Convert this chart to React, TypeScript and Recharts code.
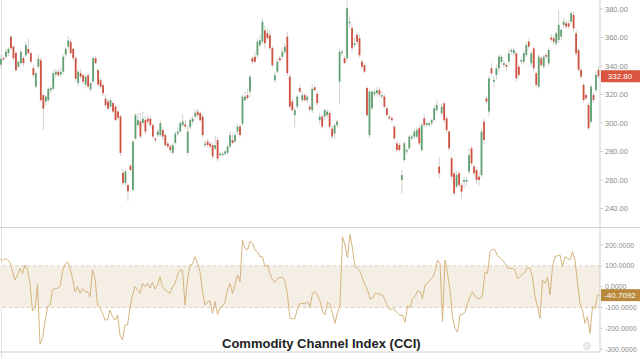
import React from "react";
import {
  ComposedChart,
  Bar,
  Line,
  XAxis,
  YAxis,
  ReferenceArea,
  ReferenceLine,
} from "recharts";

// candles, read left to right off the picture
const opens = [
  341, 345.5, 346.5, 349, 360.5, 353.5, 349, 339.5, 342, 345.5,
  347.5, 352, 349, 338.5, 325.5, 339.5, 344, 319.5, 315, 316,
  323, 324, 334, 336, 334, 336, 348, 353.5, 357, 352,
  345.5, 328, 335, 333.5, 327, 333.5, 323.5, 329, 345.5, 337,
  330, 326.5, 317, 315, 311.5, 314, 311.5, 308, 304.5, 265,
  258, 256.5, 270, 253, 289, 298.5, 301, 300, 302, 303,
  303, 298.5, 289, 291.5, 291.5, 295, 291.5, 285.5, 283.5, 279,
  286, 292.5, 294, 298.5, 299, 279, 297, 301, 304.5, 308,
  307, 304.5, 284.5, 287, 285.5, 284.5, 282, 288, 277.5, 277.5,
  278.5, 279, 283.5, 288, 287, 294, 297.5, 299.5, 316, 319.5,
  322, 345.5, 346.5, 347.5, 354.5, 357, 365, 363, 361.5, 352.5,
  330, 336, 345.5, 346.5, 350, 360.5, 332.5, 315, 305.5, 311.5,
  324.5, 316, 319.5, 316, 311.5, 309, 325, 320.5, 302, 304.5,
  304.5, 305.5, 307, 296, 292.5, 298.5, 329, 349, 345.5, 345.5,
  370, 366.5, 354.7, 361.8, 359.5, 343, 340.5, 324.5, 291.5, 310.3,
  320, 321, 323, 318.5, 318.5, 310.3, 304.4, 303.3, 297.4, 285.7,
  284.6, 260, 274, 280, 282.2, 289.2, 290.4, 290.4, 296.3, 281,
  303.3, 298.6, 298.6, 299.8, 302, 309, 269.4, 306.8, 313.8, 303.3,
  294, 275.2, 264.7, 255.3, 264.7, 256.5, 258.8, 258.8, 265.9, 282.2,
  269.4, 267, 262.3, 263.5, 300.9, 317.3, 308, 338.4, 329, 333.7,
  338.4, 343, 340.7, 340.7, 343, 350.1, 348.9, 348.9, 339.5, 343,
  343, 347.7, 357.1, 341.9, 352.4, 334.9, 325.5, 345.4, 339.5, 347.7,
  341.9, 360, 359.4, 355.9, 358.2, 360.6, 368.8, 369.9, 369.9, 371.1,
  375.8, 362.9, 351.2, 337.2, 326.7, 319.6, 312.6, 300.9, 319.6, 323.2,
  337.2,
];

const highs = [
  348, 347, 352, 353, 362, 355, 350, 344, 351, 347,
  357, 359, 350, 341, 336, 348, 346, 321, 320, 325,
  326, 337, 338, 338, 339, 348, 353, 361, 359, 353,
  347, 337, 338, 335, 334, 335, 329, 347, 347, 338,
  332, 328, 320, 317, 318, 315, 313, 309, 306, 268,
  267, 258, 271, 288, 307, 307, 307, 308, 305, 306,
  305, 300, 290, 296, 302, 297, 293, 287, 285, 286,
  294, 297, 301, 306, 302, 298, 304, 305, 310, 310,
  308, 306, 288, 289, 287, 286, 291, 290, 280, 280,
  281, 285, 294, 292, 294, 299, 299, 320, 322, 324,
  334, 347, 350, 359, 362, 374, 368, 366, 365, 354,
  336, 345, 347, 353, 356, 364, 334, 317, 311, 320,
  327, 322, 321, 320, 313, 327, 327, 322, 307, 306,
  310, 310, 309, 298, 300, 302, 352, 352, 347, 386,
  375, 370, 360, 364, 362, 345, 342, 326, 323, 323,
  324, 325, 325, 322, 320, 312, 306, 305, 299, 287,
  286, 267, 287, 282, 292, 292, 296, 297, 298, 300,
  306, 301, 301, 303, 312, 316, 276, 314, 315, 305,
  295, 277, 266, 266, 266, 258, 262, 262, 282, 284,
  271, 269, 265, 296, 303, 319, 333, 342, 333, 341,
  348, 348, 344, 342, 352, 353, 353, 350, 341, 346,
  351, 357, 359, 350, 354, 336, 348, 347, 348, 349,
  353, 362, 362, 364, 379, 366, 374, 372, 372, 379,
  378, 365, 353, 339, 328, 321, 314, 327, 321, 336,
  340,
];

const lows = [
  338, 343, 345, 347, 351, 344, 336, 338, 341, 340,
  346, 348, 341, 332, 324, 338, 315, 295, 312, 315,
  321, 323, 332, 332, 332, 334, 346, 352, 348, 344,
  329, 326, 331, 327, 325, 324, 322, 328, 341, 326,
  324, 319, 311, 309, 310, 307, 301, 302, 277, 256,
  256, 245, 266, 252, 288, 297, 289, 298, 292, 299,
  297, 289, 286, 290, 290, 288, 283, 282, 279, 278,
  285, 291, 293, 297, 296, 277, 295, 299, 303, 304,
  301, 290, 283, 283, 282, 275, 281, 273, 276, 276,
  277, 278, 282, 285, 286, 292, 290, 298, 315, 316,
  318, 341, 342, 345, 353, 355, 352, 358, 351, 339,
  328, 334, 343, 345, 348, 333, 310, 308, 297, 310,
  321, 314, 315, 314, 308, 307, 322, 312, 299, 296,
  302, 303, 296, 289, 289, 297, 313, 347, 341, 343,
  366, 350, 353, 355, 346, 338, 335, 304, 289, 309,
  318, 319, 318, 317, 310, 304, 302, 300, 288, 279,
  280, 250, 272, 278, 281, 288, 289, 289, 284, 280,
  297, 297, 297, 298, 301, 307, 261, 305, 300, 293,
  280, 260, 249, 254, 255, 247, 254, 256, 264, 270,
  262, 257, 256, 262, 285, 313, 305, 333, 325, 330,
  336, 341, 339, 337, 341, 348, 347, 329, 332, 341,
  341, 346, 352, 340, 336, 325, 324, 339, 338, 345,
  340, 357, 355, 354, 356, 358, 367, 366, 366, 369,
  364, 347, 336, 331, 314, 316, 295, 299, 314, 322,
  331,
];

const closes = [
  345, 344.5, 350, 352, 352.5, 345.5, 337, 343, 350, 342,
  354.5, 349, 343, 333.5, 335, 345, 316, 310, 318.5, 324,
  324.5, 335, 336, 333.5, 336, 346.5, 352, 358, 349, 345.5,
  331, 336, 332.5, 329, 332.5, 325.5, 328, 345.5, 342, 327,
  325.5, 321, 312.5, 310, 316, 308, 302, 303.5, 279, 258,
  266, 252, 267, 287, 305.5, 302, 290.5, 303, 294, 301,
  298.5, 290.5, 288, 294, 300, 290.5, 284.5, 283.5, 281, 284.5,
  292.5, 294, 300, 301, 297.5, 294, 302, 303, 307, 305.5,
  302, 291.5, 285.5, 284.5, 283.5, 276.5, 284.5, 275, 278.5, 278.5,
  280, 283.5, 291.5, 286, 291.5, 297.5, 291.5, 318.5, 318.5, 317.5,
  332.5, 343, 343, 357, 358, 371, 356, 359.5, 352.5, 340.5,
  333.5, 343, 344, 350, 353.5, 335, 311.5, 309, 309, 318.5,
  322, 319.5, 316, 318.5, 309.5, 324, 323, 314, 304.5, 297.5,
  309, 308, 297.5, 290.5, 298.5, 301, 350, 350, 342, 380.5,
  371, 352.5, 355.9, 357, 347.5, 339.5, 336, 305.5, 322, 322,
  322, 323, 320, 319.6, 311.5, 305.6, 303.3, 302, 289.2, 281,
  281, 263.5, 285.7, 281, 290.4, 290.4, 294, 295, 285.7, 298.6,
  298.6, 299.8, 299.8, 302, 310.3, 312.6, 264.7, 311.5, 302, 295,
  282.2, 262.3, 250.6, 263.5, 256.5, 251.8, 260, 260, 277.5, 271.7,
  264.7, 260, 260, 293.9, 288.1, 315, 331.3, 334.9, 330.2, 338.4,
  346.5, 346.5, 341.9, 339.5, 348.9, 351.2, 351.2, 331.3, 333.7, 344.2,
  348.9, 354.7, 353.6, 348.9, 338.4, 326.7, 346.5, 340.7, 346.5, 346.5,
  351.2, 358.5, 357.1, 362.9, 368.8, 365.3, 371.1, 367.6, 367.6, 377,
  366.4, 348.9, 337.2, 332.5, 316.1, 317.3, 296.3, 325.5, 316.1, 333.7,
  332.8,
];

const cci = [
  136, 123, 136, 128, 117, 72, 32, 56, 88, 64,
  104, 80, 16, -117, -104, 11, -277, -248, -168, -96,
  -88, -16, -8, -8, 0, 72, 107, 120, 88, 40,
  -24, 0, -32, -8, -24, -24, -48, 80, 40, -88,
  -101, -128, -160, -160, -112, -144, -160, -136, -232, -256,
  -184, -184, -104, -40, 0, -16, -32, 16, 0, 16,
  -8, 21, -11, 8, 48, 0, -16, -24, -32, 0,
  16, 56, 80, 80, -88, 32, 104, 107, 144, 112,
  72, -24, -88, -72, -69, -128, -72, -133, -101, -96,
  -72, -16, 16, -32, 8, 56, 24, 224, 184, 176,
  219, 208, 176, 168, 144, 144, 96, 104, 64, 32,
  21, 40, 43, 48, 24, -40, -152, -155, -152, -104,
  -80, -80, -83, -72, -96, -32, -24, -40, -69,
  -120, -136, -75, -85, -128, -176, -123, -88, 240, 200,
  139, 251, 184, 96, 88, 72, 40, 8, -16, -59,
  -56, -32, -32, -37, -40, -64, -96, -112, -104, -112,
  -128, -139, -136, -171, -91, -101, -56, -48, -21, -24,
  -56, 8, 16, 32, 43, 72, 128, 112, -168, 128,
  64, -16, -144, -200, -219, -136, -133, -123, -80, -48,
  -24, -48, -56, -59, -40, 72, 64, 168, 181, 176,
  149, 139, 128, 112, 91, 88, 88, 80, 40, 48,
  59, 72, 91, 88, 48, -48, -96, -152, 32, 16,
  43, -40, 96, 144, 149, 152, 96, 144, 136, 128,
  168, 128, 16, -80, -112, -176, -144, -224, -96, -107,
  -40, -40.7092,
];

const priceTicks = [240, 260, 280, 300, 320, 340, 360, 380];
const cciTicks = [-300, -200, -100, 0, 100, 200];
// month boundaries on the time axis; their labels sit below the page edge
const monthTicks = [11, 30, 51, 72, 94, 116, 137, 159, 178, 201, 220];

const lastPrice = 332.8;
const lastCci = -40.7092;

const GREEN = "#5f9f70";
const RED = "#cf5140";
const WICK = "#d2d2d2";
const FONT = "Arial, 'Liberation Sans', sans-serif";

const rows = opens.map((o, i) => ({
  i,
  open: o,
  high: highs[i],
  low: lows[i],
  close: closes[i],
  range: [lows[i], highs[i]],
  cci: cci[i],
}));

const Candle = (props: any) => {
  const { x, y, width, height, payload } = props;
  const top = Math.min(y, y + height);
  const h = Math.abs(height);
  const span = payload.high - payload.low || 1;
  const pix = (v: number) => top + ((payload.high - v) / span) * h;
  const cx = x + width / 2;
  const up = payload.close >= payload.open;
  const b1 = pix(Math.max(payload.open, payload.close));
  const b2 = pix(Math.min(payload.open, payload.close));
  return (
    <g>
      <line x1={cx} x2={cx} y1={top} y2={top + h} stroke={WICK} strokeWidth={1} />
      <rect x={cx - 0.9} y={b1} width={1.8} height={Math.max(1, b2 - b1)} fill={up ? GREEN : RED} />
    </g>
  );
};

const tag = (text: string, fill: string) => (props: any) => {
  const vb = props.viewBox || {};
  const x = (vb.x || 0) + (vb.width || 0);
  const y = vb.y || 0;
  return (
    <g>
      <rect x={x + 1} y={y - 6} width={39} height={12} fill={fill} />
      <text x={x + 20} y={y + 3} textAnchor="middle" fontSize={8} fill="#fff" fontFamily={FONT}>
        {text}
      </text>
    </g>
  );
};

export default function App() {
  return (
    <div style={{ position: "absolute", left: 0, top: 0, width: 640, height: 358, overflow: "hidden", background: "#fff", fontFamily: FONT }}>
      <div style={{ position: "absolute", left: 1, top: 0, width: 1, height: 358, background: "#e3e3e3" }} />
      <div style={{ position: "absolute", left: 0, top: 0 }}>
        <ComposedChart width={640} height={227} data={rows} margin={{ top: 0, right: 0, bottom: 0, left: 0 }} barCategoryGap={0}>
          <XAxis dataKey="i" hide />
          <YAxis
            orientation="right"
            width={40}
            domain={[227, 386.3]}
            ticks={priceTicks}
            tickFormatter={(v: number) => v.toFixed(2)}
            tick={{ fontSize: 7.5, fill: "#8a8a8a", fontFamily: FONT }}
            tickSize={3}
            axisLine={{ stroke: "#cfcfcf" }}
            tickLine={{ stroke: "#cfcfcf" }}
          />
          <Bar dataKey="range" shape={(p: any) => <Candle {...p} />} isAnimationActive={false} />
          <ReferenceLine y={lastPrice} stroke="none" label={tag(lastPrice.toFixed(2), "#d9553f")} />
        </ComposedChart>
      </div>
      <div style={{ position: "absolute", left: 0, top: 227, width: 640, height: 1, background: "#d4d4d4" }} />
      <div style={{ position: "absolute", left: 0, top: 228 }}>
        <ComposedChart width={640} height={130} data={rows} margin={{ top: 0, right: 0, bottom: 0, left: 0 }}>
          <XAxis
            dataKey="i"
            height={6}
            ticks={monthTicks}
            interval={0}
            tick={false}
            tickSize={3}
            axisLine={{ stroke: "#cfcfcf" }}
            tickLine={{ stroke: "#cfcfcf" }}
          />
          <YAxis
            orientation="right"
            width={40}
            domain={[-314, 282]}
            ticks={cciTicks}
            tickFormatter={(v: number) => v.toFixed(4)}
            tick={{ fontSize: 7, fill: "#8a8a8a", fontFamily: FONT }}
            tickSize={3}
            axisLine={{ stroke: "#cfcfcf" }}
            tickLine={{ stroke: "#cfcfcf" }}
          />
          <ReferenceArea y1={-100} y2={100} fill="#f4eee5" fillOpacity={1} stroke="none" />
          <ReferenceLine y={100} stroke="#d9d0c2" strokeDasharray="3 3" />
          <ReferenceLine y={-100} stroke="#d9d0c2" strokeDasharray="3 3" />
          <Line dataKey="cci" stroke="#d6b47f" strokeWidth={1} dot={false} isAnimationActive={false} />
          <ReferenceLine y={lastCci} stroke="none" label={tag(lastCci.toFixed(4), "#b8893a")} />
        </ComposedChart>
      </div>
      <div style={{ position: "absolute", left: 222, top: 336, fontSize: 13, lineHeight: "15px", fontWeight: "bold", color: "#222", whiteSpace: "nowrap" }}>
        Commodity Channel Index (CCI)
      </div>
      <div style={{ position: "absolute", left: 583, top: 342, width: 8, height: 8, borderRadius: 4, background: "#eeeeee", border: "1px solid #e0e0e0", boxSizing: "border-box" }} />
    </div>
  );
}
